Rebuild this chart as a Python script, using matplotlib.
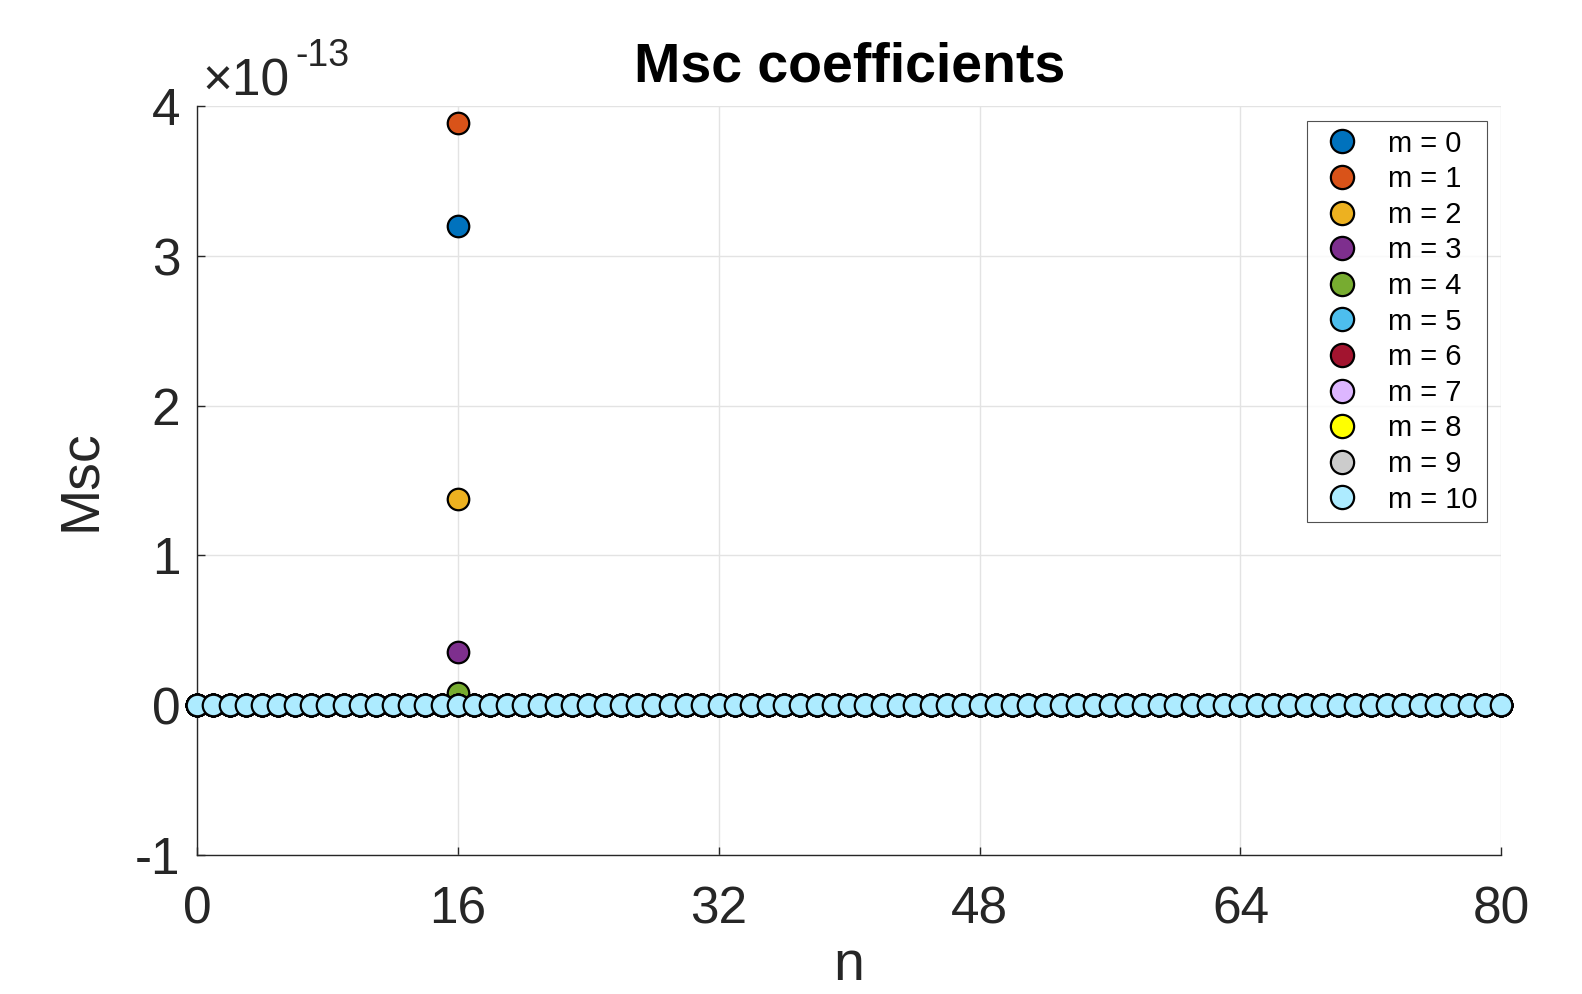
import numpy as np
import matplotlib
matplotlib.use("Agg")
import matplotlib.pyplot as plt
from matplotlib.ticker import FuncFormatter

plt.rcParams.update({
    "font.family": ["Liberation Sans", "DejaVu Sans"],
})

# mode numbers, sample index, and the single nonzero column at n = 16
modes = [0, 1, 2, 3, 4, 5, 6, 7, 8, 9, 10]
n_vals = list(range(0, 81))
spike_n = 16
spike_vals = [3.20e-13, 3.89e-13, 1.38e-13, 0.357e-13, 0.081e-13,
              0.0, 0.0, 0.0, 0.0, 0.0, 0.0]

colors = ["#0072BD", "#D95319", "#EDB120", "#7E2F8E", "#77AC30", "#4DBEEE",
          "#A2142F", "#DDB6FF", "#FFFF00", "#CCCCCC", "#ADEBFF"]

W, H = 1582, 994
fig = plt.figure(figsize=(W / 100, H / 100), dpi=100)
ax = fig.add_axes([0.1245, 0.140, 0.8245, 0.753])

for m, v, c in zip(modes, spike_vals, colors):
    y = np.zeros(len(n_vals))
    y[n_vals.index(spike_n)] = v
    ax.plot(n_vals, y, "o", linestyle="none", markersize=15.5,
            markerfacecolor=c, markeredgecolor="black", markeredgewidth=1.6,
            label=f"m = {m}", zorder=3 + m * 0.01, clip_on=False)

ax.set_xlim(0, 80)
ax.set_ylim(-1e-13, 4e-13)
ax.set_xticks([0, 16, 32, 48, 64, 80])
ax.set_yticks([-1e-13, 0, 1e-13, 2e-13, 3e-13, 4e-13])
ax.yaxis.set_major_formatter(FuncFormatter(lambda v, p: f"{v / 1e-13:.0f}"))

ax.grid(True, color="#e3e3e3", linewidth=1.0)
ax.set_axisbelow(True)
for s in ("top", "right"):
    ax.spines[s].set_visible(False)
for s in ("left", "bottom"):
    ax.spines[s].set_color("#262626")
    ax.spines[s].set_linewidth(1.0)
ax.tick_params(axis="both", direction="in", length=6, width=1.0,
               labelsize=37, colors="#262626")
ax.tick_params(axis="x", pad=22)
ax.tick_params(axis="y", pad=12)

# scale factor drawn as plain text so the exponent keeps a hyphen
fig.text(202 / W, 1 - 95 / H, "×10", fontsize=37, color="#262626",
         ha="left", va="baseline")
fig.text(295 / W, 1 - 66 / H, "-13", fontsize=27, color="#262626",
         ha="left", va="baseline")

ax.set_title("Msc coefficients", fontsize=40, fontweight="bold", pad=18)
ax.set_xlabel("n", fontsize=40, color="#262626", labelpad=4)
ax.set_ylabel("Msc", fontsize=40, color="#262626", labelpad=20)

leg = ax.legend(loc="upper right", fontsize=21, frameon=True, fancybox=False,
                borderpad=0.3, labelspacing=0.26, handletextpad=0.7,
                handlelength=1.8, borderaxespad=0.5, markerscale=1.08)
leg.get_frame().set_edgecolor("#262626")
leg.get_frame().set_linewidth(0.8)

fig.savefig("out.png", dpi=100, facecolor="white")
